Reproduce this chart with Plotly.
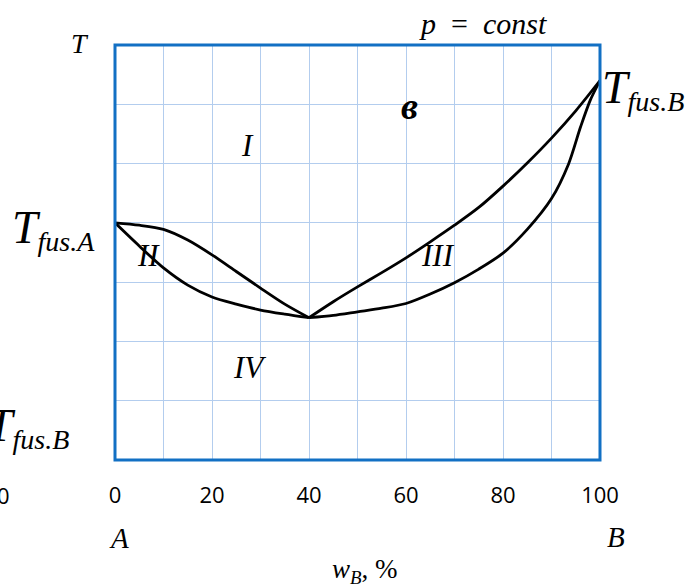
import plotly.graph_objects as go

# Composition of B, wt.% (x) and temperature in arbitrary units (y)
w_left = [0, 5, 10, 15, 20, 25, 30, 35, 40]
liquidus_left = [40, 39.6, 38.9, 37.1, 34.6, 31.8, 29.0, 26.3, 24]
solidus_left = [40, 36.1, 32.4, 29.5, 27.5, 26.3, 25.3, 24.6, 24]

w_right = [40, 45, 50, 55, 60, 65, 70, 75, 80, 85, 90, 95, 100]
liquidus_right = [24, 26.7, 29.2, 31.6, 34.1, 36.8, 39.6, 42.6, 46.2, 50.1, 54.3, 58.9, 64]
w_right_sol = [40, 45, 50, 55, 60, 65, 70, 75, 80, 85, 90, 93.5, 96, 98, 100]
solidus_right = [24, 24.4, 25.0, 25.6, 26.4, 28.0, 29.9, 32.2, 34.9, 38.9, 44.1, 49.9, 56.2, 60.7, 64]

x_ticks = [0, 20, 40, 60, 80, 100]

W, H = 685, 587
L, R, T, B = 115, 85, 45, 127

SERIF = "Liberation Serif"

fig = go.Figure()
curve_line = dict(color="black", width=2.8, shape="spline", smoothing=0.8)
for xs, ys in [(w_left, liquidus_left), (w_left, solidus_left),
               (w_right, liquidus_right), (w_right_sol, solidus_right)]:
    fig.add_trace(go.Scatter(x=xs, y=ys, mode="lines", line=curve_line,
                             hoverinfo="skip", showlegend=False))

grid = "#b3cdee"
fig.update_layout(
    width=W, height=H,
    margin=dict(l=L, r=R, t=T, b=B),
    plot_bgcolor="white", paper_bgcolor="white",
    showlegend=False,
    xaxis=dict(range=[0, 100], tickvals=x_ticks, ticktext=[str(v) for v in x_ticks],
               showgrid=True, gridcolor=grid, gridwidth=1,
               minor=dict(dtick=10, showgrid=True, gridcolor=grid, gridwidth=1),
               zeroline=False, showline=False, ticks="",
               ticklabelstandoff=20,
               tickfont=dict(family="Open Sans", size=22, color="black")),
    yaxis=dict(range=[0, 70], dtick=10, showgrid=True, gridcolor=grid, gridwidth=1,
               zeroline=False, showline=False, showticklabels=False, ticks=""),
)

# plot frame
fig.add_shape(type="rect", xref="paper", yref="paper", x0=0, y0=0, x1=1, y1=1,
              line=dict(color="#1270c4", width=3), layer="above")


def px_to_paper(px, py):
    return (px - L) / (W - L - R), (H - B - py) / (H - T - B)


def label(text, px, py, size, xanchor="center", yanchor="middle", bold=False):
    x, y = px_to_paper(px, py)
    if bold:
        text = f"<b>{text}</b>"
    fig.add_annotation(text=text, x=x, y=y, xref="paper", yref="paper",
                       xanchor=xanchor, yanchor=yanchor, showarrow=False,
                       font=dict(family=SERIF, size=size, color="black"))


def fus_label(sub, px, py, xanchor):
    text = (f"<i><span style='font-size:46px'>T</span>"
            f"<sub>fus.{sub}</sub></i>")
    label(text, px, py, 40, xanchor=xanchor)


label("<i>T</i>", 80, 44, 28)
label("<i>p</i>\u00a0\u00a0=\u00a0\u00a0<i>const</i>", 483, 24, 30)
fus_label("A", 10, 229, "left")
fus_label("B", 600, 89, "left")
fus_label("B", 71, 427, "right")
label("<i>в</i>", 409, 106, 38, bold=True)
label("<i>I</i>", 247, 145, 31)
label("<i>II</i>", 148, 256, 31)
label("<i>III</i>", 438, 256, 31)
label("<i>IV</i>", 249, 367, 31)
label("<i>A</i>", 119, 538, 29)
label("<i>B</i>", 616, 537, 29)
label("<i>w</i><sub><i>B</i></sub>, %", 365, 571, 27)

# stray tick label at the left edge
x0, y0 = px_to_paper(12, 495)
fig.add_annotation(text="0", x=x0, y=y0, xref="paper", yref="paper",
                   xanchor="right", yanchor="middle", showarrow=False,
                   font=dict(family="Open Sans", size=22, color="black"))

fig.write_html("out.html")
